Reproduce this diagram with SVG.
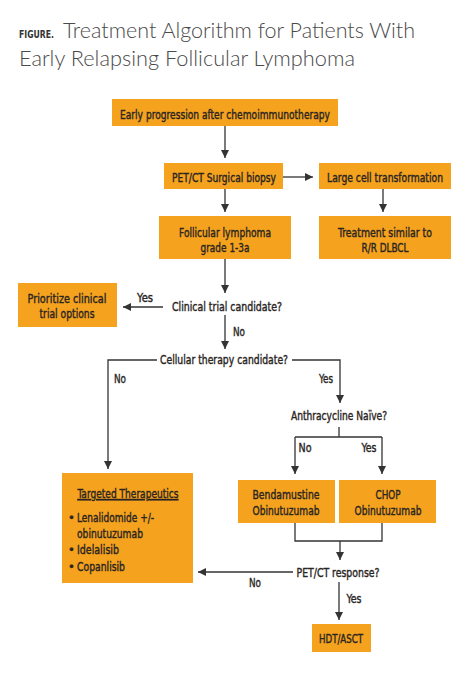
<svg xmlns="http://www.w3.org/2000/svg" width="474" height="674" viewBox="0 0 474 674">
<style>
.bg{fill:#ffffff}
.box{fill:#F5A21E}
.t{font-family:"Liberation Sans Narrow","DejaVu Sans Condensed","Liberation Sans",sans-serif;font-size:13px;fill:#2a2523;stroke:#2a2523;stroke-width:0.4;text-anchor:middle;font-stretch:condensed}
.tl{text-anchor:start}
.title{font-family:Lato,"Open Sans","Liberation Sans",sans-serif;font-weight:300;font-size:22px;fill:#4a4a4a}
.fig{font-family:"Liberation Sans Narrow","DejaVu Sans Condensed","Liberation Sans",sans-serif;font-weight:bold;font-size:11px;fill:#333}
.ln{stroke:#333;stroke-width:1.3;fill:none}
</style>
<defs>
<marker id="ah" viewBox="0 0 10 10" refX="10" refY="5" markerWidth="8" markerHeight="8" markerUnits="userSpaceOnUse" orient="auto">
<path d="M0,0 L10,5 L0,10 Z" fill="#333"/>
</marker>
</defs>
<rect class="bg" x="0" y="0" width="474" height="674"/>
<g id="title">
<text class="fig" x="19" y="38" textLength="35" lengthAdjust="spacingAndGlyphs">FIGURE.</text>
<text class="title" x="63" y="38" textLength="352" lengthAdjust="spacingAndGlyphs">Treatment Algorithm for Patients With</text>
<text class="title" x="19" y="66" textLength="336" lengthAdjust="spacingAndGlyphs">Early Relapsing Follicular Lymphoma</text>
</g>
<g id="connectors">
<line class="ln" x1="225" y1="126" x2="225" y2="158" marker-end="url(#ah)"/>
<line class="ln" x1="283" y1="177" x2="313" y2="177" marker-end="url(#ah)"/>
<line class="ln" x1="225" y1="189" x2="225" y2="212" marker-end="url(#ah)"/>
<line class="ln" x1="383" y1="189" x2="383" y2="212" marker-end="url(#ah)"/>
<line class="ln" x1="225" y1="259" x2="225" y2="293" marker-end="url(#ah)"/>
<line class="ln" x1="163" y1="307" x2="123" y2="307" marker-end="url(#ah)"/>
<line class="ln" x1="225" y1="315" x2="225" y2="349" marker-end="url(#ah)"/>
<polyline class="ln" points="157,360 108,360 108,469" marker-end="url(#ah)"/>
<polyline class="ln" points="292,360 340,360 340,403" marker-end="url(#ah)"/>
<line class="ln" x1="339" y1="427" x2="339" y2="437"/>
<line class="ln" x1="295" y1="437" x2="382" y2="437"/>
<line class="ln" x1="295" y1="437" x2="295" y2="474" marker-end="url(#ah)"/>
<line class="ln" x1="382" y1="437" x2="382" y2="474" marker-end="url(#ah)"/>
<polyline class="ln" points="295,523 295,541 382,541 382,523"/>
<line class="ln" x1="340" y1="541" x2="340" y2="560" marker-end="url(#ah)"/>
<line class="ln" x1="293" y1="572" x2="198" y2="572" marker-end="url(#ah)"/>
<line class="ln" x1="339" y1="582" x2="339" y2="620" marker-end="url(#ah)"/>
</g>
<g id="n-early">
<rect class="box" x="112" y="99" width="226" height="27"/>
<text class="t" x="225" y="119" textLength="210" lengthAdjust="spacingAndGlyphs">Early progression after chemoimmunotherapy</text>
</g>
<g id="n-petct">
<rect class="box" x="164" y="163" width="119" height="26"/>
<text class="t" x="224" y="182" textLength="104" lengthAdjust="spacingAndGlyphs">PET/CT Surgical biopsy</text>
</g>
<g id="n-large">
<rect class="box" x="319" y="163" width="132" height="26"/>
<text class="t" x="385" y="182" textLength="116" lengthAdjust="spacingAndGlyphs">Large cell transformation</text>
</g>
<g id="n-fl">
<rect class="box" x="159" y="216" width="132" height="43"/>
<text class="t" x="225" y="237" textLength="92" lengthAdjust="spacingAndGlyphs">Follicular lymphoma</text>
<text class="t" x="225" y="252" textLength="49" lengthAdjust="spacingAndGlyphs">grade 1-3a</text>
</g>
<g id="n-dlbcl">
<rect class="box" x="319" y="216" width="132" height="43"/>
<text class="t" x="385" y="237" textLength="94" lengthAdjust="spacingAndGlyphs">Treatment similar to</text>
<text class="t" x="385" y="252" textLength="47" lengthAdjust="spacingAndGlyphs">R/R DLBCL</text>
</g>
<g id="n-clinical">
<text class="t" x="227" y="311" textLength="110" lengthAdjust="spacingAndGlyphs">Clinical trial candidate?</text>
</g>
<g id="n-prioritize">
<rect class="box" x="18" y="283" width="99" height="44"/>
<text class="t" x="67" y="303" textLength="79" lengthAdjust="spacingAndGlyphs">Prioritize clinical</text>
<text class="t" x="67" y="318" textLength="55" lengthAdjust="spacingAndGlyphs">trial options</text>
</g>
<g id="labels">
<text class="t" x="145" y="302" textLength="16" lengthAdjust="spacingAndGlyphs">Yes</text>
<text class="t" x="239" y="336" textLength="12" lengthAdjust="spacingAndGlyphs">No</text>
<text class="t" x="120" y="383" textLength="12" lengthAdjust="spacingAndGlyphs">No</text>
<text class="t" x="326" y="383" textLength="14" lengthAdjust="spacingAndGlyphs">Yes</text>
<text class="t" x="305" y="452" textLength="13" lengthAdjust="spacingAndGlyphs">No</text>
<text class="t" x="369" y="452" textLength="15" lengthAdjust="spacingAndGlyphs">Yes</text>
<text class="t" x="255" y="587" textLength="12" lengthAdjust="spacingAndGlyphs">No</text>
<text class="t" x="354" y="603" textLength="15" lengthAdjust="spacingAndGlyphs">Yes</text>
</g>
<g id="n-cellular">
<text class="t" x="224" y="364" textLength="128" lengthAdjust="spacingAndGlyphs">Cellular therapy candidate?</text>
</g>
<g id="n-anthra">
<text class="t" x="339" y="420" textLength="96" lengthAdjust="spacingAndGlyphs">Anthracycline Naïve?</text>
</g>
<g id="n-targeted">
<rect class="box" x="62" y="473" width="131" height="110"/>
<text class="t" x="128" y="498" textLength="101" lengthAdjust="spacingAndGlyphs" text-decoration="underline">Targeted Therapeutics</text>
<text class="t tl" x="68" y="522">•</text>
<text class="t tl" x="77" y="522" textLength="77" lengthAdjust="spacingAndGlyphs">Lenalidomide +/-</text>
<text class="t tl" x="77" y="538" textLength="66" lengthAdjust="spacingAndGlyphs">obinutuzumab</text>
<text class="t tl" x="68" y="554">•</text>
<text class="t tl" x="77" y="554" textLength="42" lengthAdjust="spacingAndGlyphs">Idelalisib</text>
<text class="t tl" x="68" y="571">•</text>
<text class="t tl" x="77" y="571" textLength="48" lengthAdjust="spacingAndGlyphs">Copanlisib</text>
</g>
<g id="n-benda">
<rect class="box" x="238" y="480" width="97" height="43"/>
<text class="t" x="286" y="499" textLength="67" lengthAdjust="spacingAndGlyphs">Bendamustine</text>
<text class="t" x="286" y="515" textLength="67" lengthAdjust="spacingAndGlyphs">Obinutuzumab</text>
</g>
<g id="n-chop">
<rect class="box" x="339" y="480" width="97" height="43"/>
<text class="t" x="388" y="499" textLength="25" lengthAdjust="spacingAndGlyphs">CHOP</text>
<text class="t" x="388" y="515" textLength="67" lengthAdjust="spacingAndGlyphs">Obinutuzumab</text>
</g>
<g id="n-response">
<text class="t" x="338" y="577" textLength="83" lengthAdjust="spacingAndGlyphs">PET/CT response?</text>
</g>
<g id="n-hdt">
<rect class="box" x="312" y="624" width="59" height="28"/>
<text class="t" x="341" y="643" textLength="44" lengthAdjust="spacingAndGlyphs">HDT/ASCT</text>
</g>
</svg>
